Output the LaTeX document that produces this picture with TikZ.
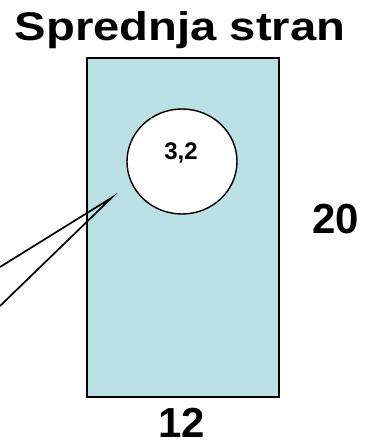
\documentclass[tikz,border=0pt]{standalone}
\usepackage{fontspec}
\setmainfont{Liberation Sans}
\usetikzlibrary{shapes.geometric}
\definecolor{paneblue}{RGB}{187,224,228}
\tikzset{
  label font/.style = {font=\bfseries\fontsize{#1}{#1}\selectfont, inner sep=0pt},
  pane/.style = {draw, line width=1.4pt, fill=paneblue, minimum width=192pt, minimum height=339pt, inner sep=0pt},
  hole/.style = {draw, ellipse, line width=1.4pt, fill=white, minimum width=110pt, minimum height=105pt, inner sep=0pt},
  pointer/.style = {line width=1.7pt}
}

\begin{document}
\begin{tikzpicture}[x=1pt, y=-1pt]
   \useasboundingbox (0,0) rectangle (365,447);
   \node[pane] (P) at (183,227.5) {};
   \node[hole] (H) at (182,161.5) {};
   \node[label font=24, anchor=base] (R) at (181,159) {3,2};
   \node[label font=40, anchor=base] (T) at (180,40) {\scalebox{1.18}[1]{Sprednja stran}};
   \node[label font=42, anchor=base] (V) at (336,233) {20};
   \node[label font=42, anchor=base] (W) at (182,437) {12};
   \coordinate (tip) at (111.7,197.7);
   \coordinate (a) at (0,267);
   \coordinate (b) at (0,306);
   \draw[pointer] (a) -- (tip) -- (b);
\end{tikzpicture}
\end{document}
